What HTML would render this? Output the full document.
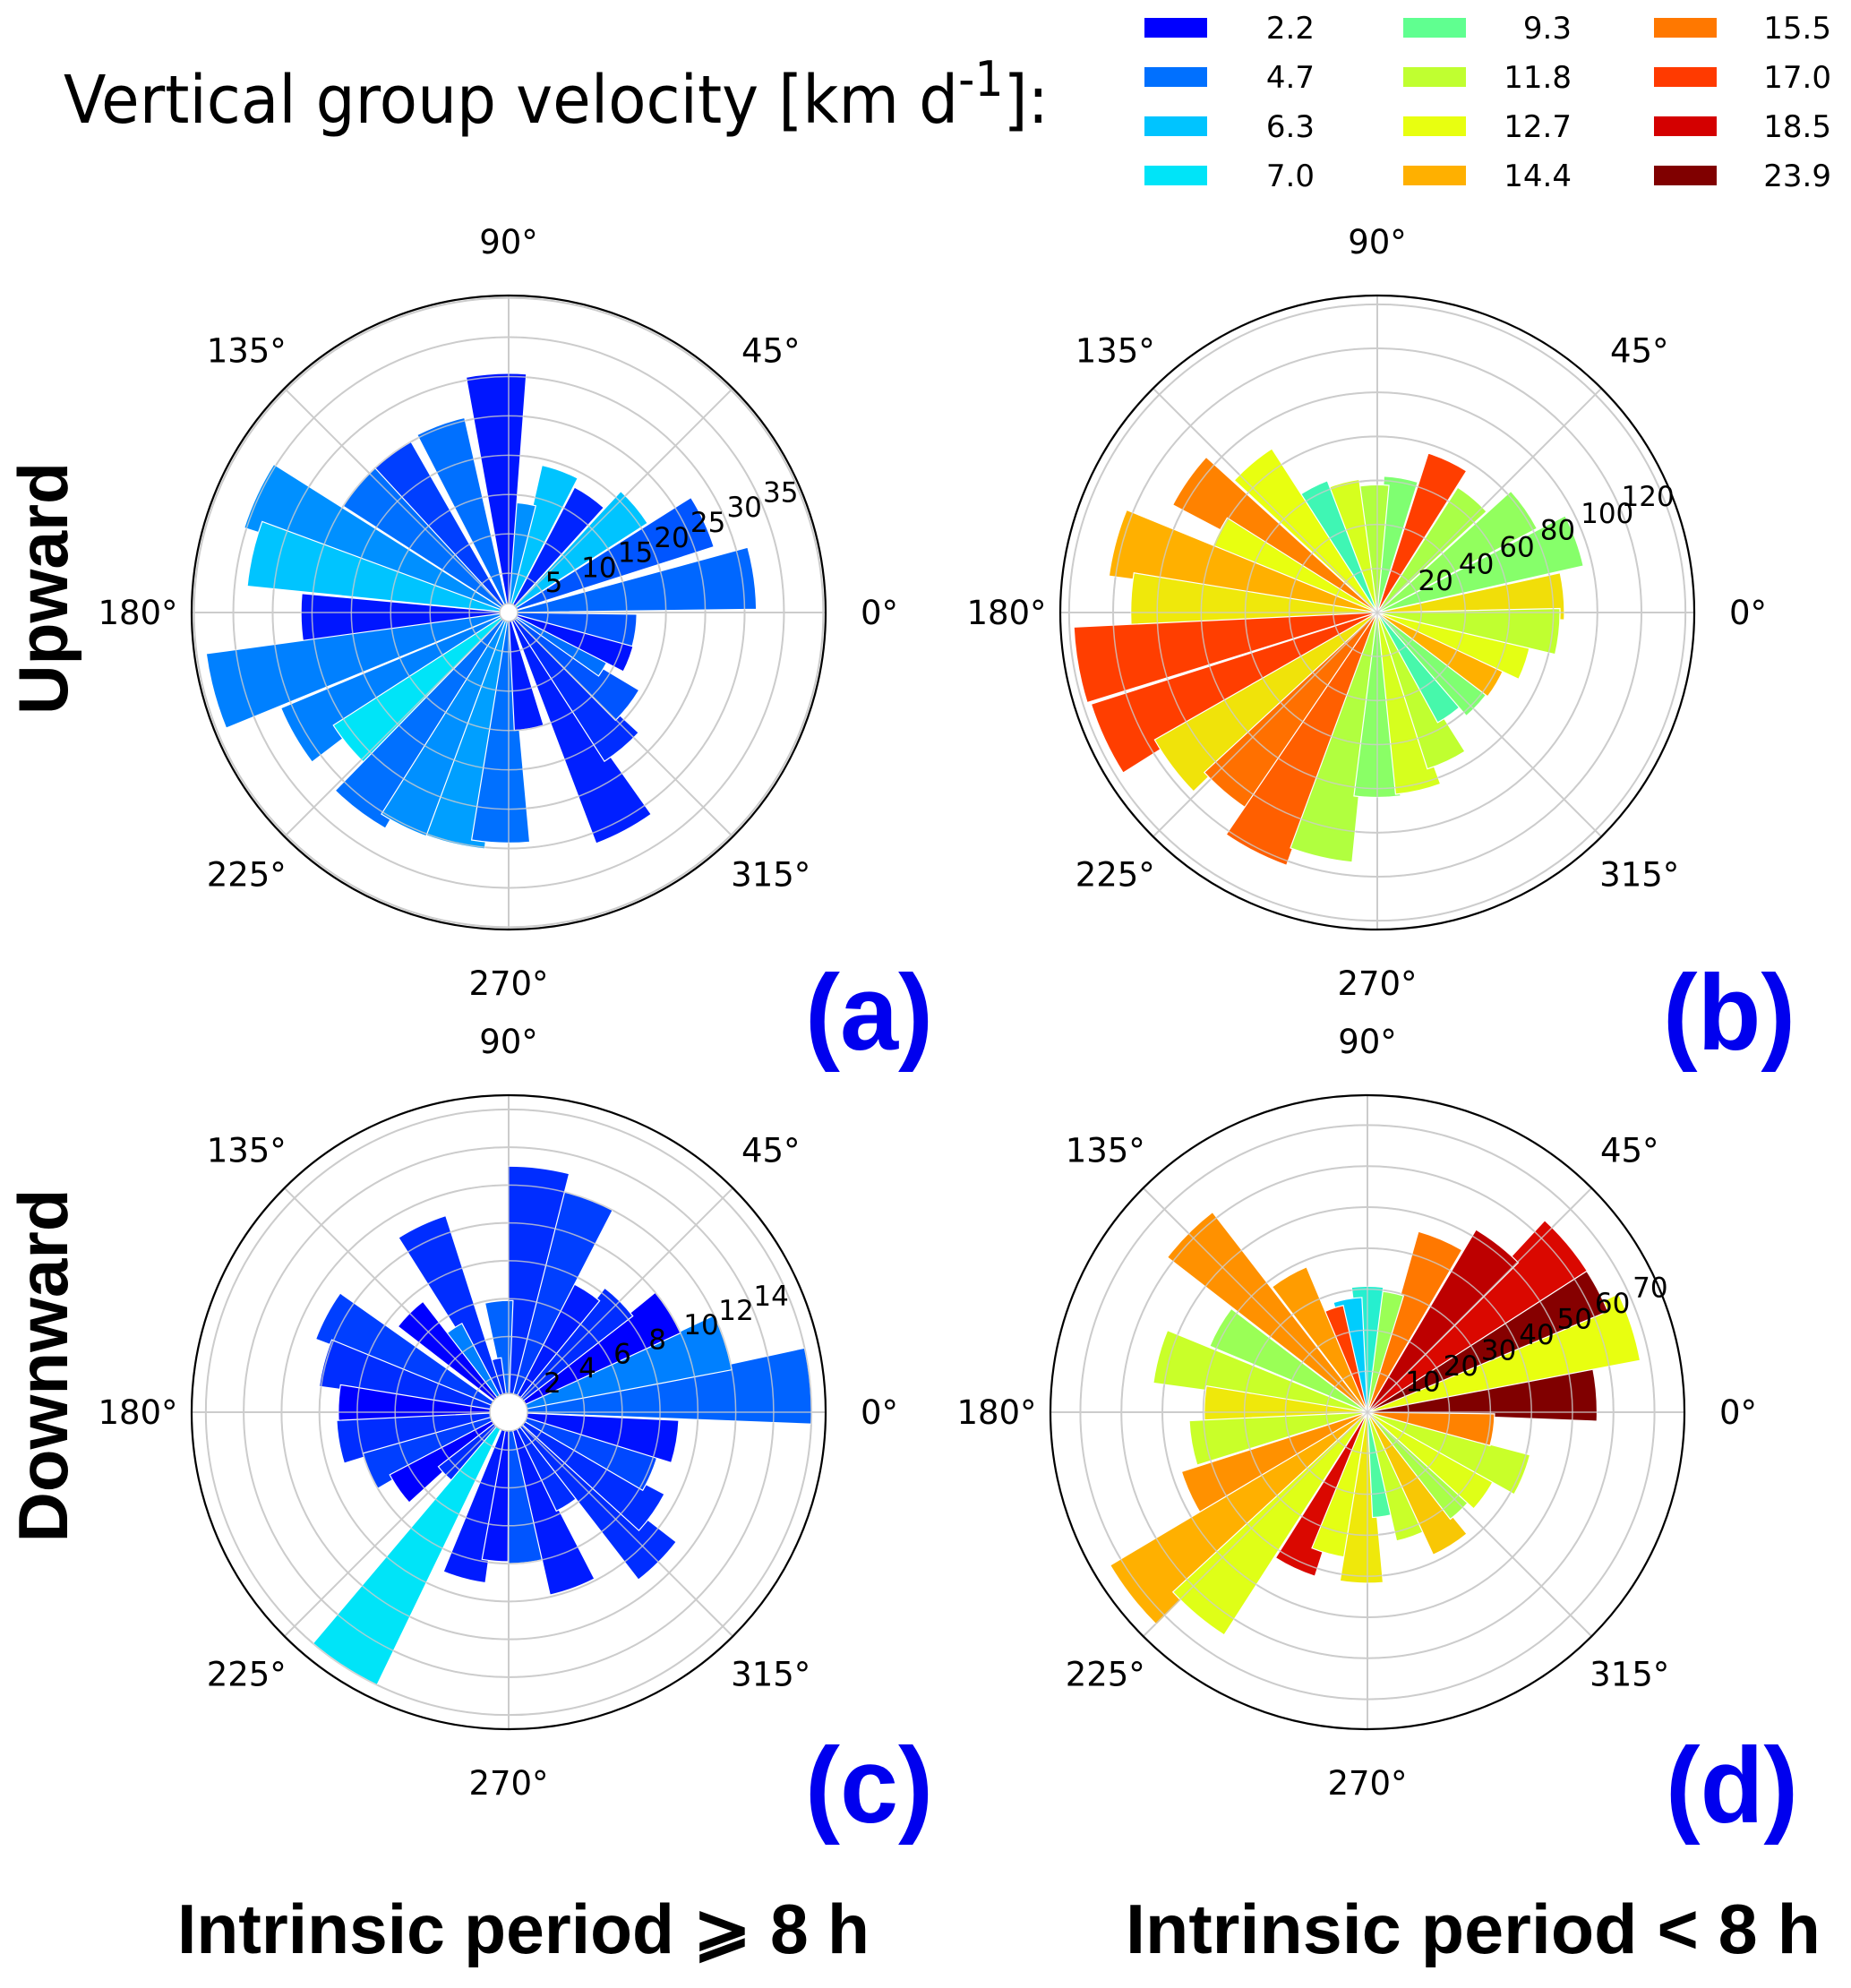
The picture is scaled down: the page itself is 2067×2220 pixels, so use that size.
<!DOCTYPE html>
<html><head><meta charset="utf-8">
<style>
html,body{margin:0;padding:0;background:#fff;}
svg{display:block;}
text{font-family:"DejaVu Sans","Liberation Sans",sans-serif;}
.b{font-family:"Liberation Sans",sans-serif;font-weight:bold;}
</style></head>
<body>
<svg id="fig" xmlns="http://www.w3.org/2000/svg" width="2067" height="2220" viewBox="0 0 2067 2220">
<rect x="0" y="0" width="2067" height="2220" fill="#fff"/>
<text x="71" y="137" font-size="74" font-family="Liberation Sans, sans-serif" textLength="1100" lengthAdjust="spacingAndGlyphs">Vertical group velocity [km d<tspan dy="-30" font-size="54">-1</tspan><tspan dy="30">]:</tspan></text>
<g id="legend"></g>
<text class="b" transform="translate(75,657) rotate(-90)" text-anchor="middle" font-size="78" textLength="282" lengthAdjust="spacingAndGlyphs">Upward</text>
<text class="b" transform="translate(75,1525) rotate(-90)" text-anchor="middle" font-size="78" textLength="395" lengthAdjust="spacingAndGlyphs">Downward</text>
<text class="b" x="198" y="2181" font-size="78" textLength="773" lengthAdjust="spacingAndGlyphs">Intrinsic period ⩾ 8 h</text>
<text class="b" x="1257" y="2181" font-size="78" textLength="776" lengthAdjust="spacingAndGlyphs">Intrinsic period &lt; 8 h</text>
<text class="b" x="899" y="1172" font-size="120" fill="#0000ee" textLength="143" lengthAdjust="spacingAndGlyphs">(a)</text>
<text class="b" x="1857" y="1172" font-size="120" fill="#0000ee" textLength="148" lengthAdjust="spacingAndGlyphs">(b)</text>
<text class="b" x="899" y="2035" font-size="120" fill="#0000ee" textLength="143" lengthAdjust="spacingAndGlyphs">(c)</text>
<text class="b" x="1860" y="2035" font-size="120" fill="#0000ee" textLength="148" lengthAdjust="spacingAndGlyphs">(d)</text>
<g id="panels"></g>
</svg>
<script>
// Legend classes (vertical group velocity, km/d)
const legendValues = [2.2, 4.7, 6.3, 7.0, 9.3, 11.8, 12.7, 14.4, 15.5, 17.0, 18.5, 23.9];
const legendColors = ["#0000ff","#0070ff","#00c4ff","#00e4f8","#60ff90","#c0ff30","#e8ff10","#ffb000","#ff7800","#ff3a00","#d40000","#800000"];

// Panel (a): upward, period >= 8 h
const anglesA = [8,25,40,55,70,83,93,110,127,140,155,167,182,195,210,220,233,245,257,268,280,298,310,322,332,340,352];
const valuesA = [31.5,27.4,21,18,19.2,14,30.4,25.4,25,25,35.3,33.4,26.4,38.8,31.4,26.5,31.6,30.3,30.2,29.3,15,31.4,22.5,19.3,14,16.4,16.3];
const velA    = [4.5,4.1,6.3,3.0,6.3,5.3,2.7,4.7,3.6,4.7,5.3,6.3,2.7,5.0,5.0,7.0,4.7,5.3,5.6,4.7,2.8,2.9,3.2,4.1,4.7,2.6,4.1];
const ticksA  = [5,10,15,20,25,30,35];

// Panel (b): upward, period < 8 h
const anglesB = [5,20,35,50,65,80,92,105,118,130,145,155,165,178,190,205,217,230,243,257,270,283,295,306,318,330,342,354];
const valuesB = [85,96,82,67.6,76,62,58,61,64,88.5,105,80.6,123,112,138,136.5,116.5,107,122,114,84,83,74.6,57,62,63,71,83];
const velB    = [13.4,10.3,10.6,11.2,16.9,10.1,11.4,12.3,8.5,12.7,15.3,12.7,14.4,13.2,16.9,16.9,13.3,15.7,16.1,11.4,10.4,12.3,11.8,8.7,10.1,14.4,12.6,11.8];
const ticksB  = [20,40,60,80,100,120];

// Panel (c): downward, period >= 8 h
const anglesC = [5,18,32,45,58,70,83,95,105,115,125,135,152,165,178,190,203,215,225,237,255,267,277,290,303,315,325,337,350];
const valuesC = [16,12,10,8.3,7.6,12,13,5.9,2.9,10.9,5.3,7.4,10.9,10.1,9.0,9.1,8.0,7.1,4.7,16.0,9.1,7.9,8.0,9.9,5.8,11.2,9.3,8.2,9.0];
const velC    = [4.4,5.0,2.2,3.2,2.8,3.6,3.2,4.4,3.2,3.2,5.0,2.2,3.6,3.2,2.2,3.2,3.6,2.2,3.2,7.0,2.8,2.6,4.1,2.8,3.2,3.2,3.2,3.8,2.6];
const ticksC  = [2,4,6,8,10,12,14];

// Panel (d): downward, period < 8 h
const anglesD = [5,18,30,40,52,67,80,90,100,110,120,135,150,165,178,190,205,218,230,245,255,268,280,290,302,315,325,338,352];
const valuesD = [56,67.7,63.6,63.7,51.8,45.8,29.7,30.7,28,26.7,38.4,61.7,41.7,52.7,39.8,43.5,47.6,73,64.6,42,35.8,41.7,25.7,32.2,38.3,33,35,41,31];
const velD    = [23.9,12.7,23.5,18.3,20.0,15.5,10.8,7.9,6.5,16.9,14.8,15.0,10.8,12.0,13.2,12.0,15.0,14.4,12.5,18.3,12.6,13.2,8.9,12.0,13.9,11.2,12.5,12.0,15.3];
const ticksD  = [10,20,30,40,50,60,70];

const NS = "http://www.w3.org/2000/svg";
function mk(tag, attrs){ const e=document.createElementNS(NS,tag); for(const k in attrs) e.setAttribute(k,attrs[k]); return e; }
function hex2rgb(h){ return [parseInt(h.substr(1,2),16),parseInt(h.substr(3,2),16),parseInt(h.substr(5,2),16)]; }
function velColor(v){
  if(v<=legendValues[0]) return legendColors[0];
  for(let i=1;i<legendValues.length;i++){
    if(v<=legendValues[i]){
      const t=(v-legendValues[i-1])/(legendValues[i]-legendValues[i-1]);
      const a=hex2rgb(legendColors[i-1]), b=hex2rgb(legendColors[i]);
      return "rgb("+a.map((x,j)=>Math.round(x+(b[j]-x)*t)).join(",")+")";
    }
  }
  return legendColors[legendColors.length-1];
}

// legend
const lg=document.getElementById('legend');
const colSw=[1278,1567,1847], colTx=[1468,1755,2045], rowY=[31,86,141,196];
legendValues.forEach((v,i)=>{
  const c=Math.floor(i/4), r=i%4;
  const sw=mk('rect',{x:colSw[c],y:rowY[r]-11,width:70,height:22,fill:legendColors[i]});
  
  
  lg.appendChild(sw);
  const t=mk('text',{x:colTx[c],y:rowY[r]+12,'font-size':34,'text-anchor':'end'});
  t.textContent=v.toFixed(1);
  
  
  lg.appendChild(t);
});

const R=354;
function drawPanel(id, cx, cy, rmax, hole, angles, values, vels, ticks){
  const g=mk('g',{});
  
  
  document.getElementById('panels').appendChild(g);
  const rs=v=>v/rmax*R;
  const pt=(deg,r)=>[cx+r*Math.cos(deg*Math.PI/180), cy-r*Math.sin(deg*Math.PI/180)];
  const ringVals=[]; const step=ticks[1]-ticks[0];
  for(let v=step; v<rmax-0.01; v+=step) ringVals.push(v);
  ringVals.forEach(v=>{
    const c=mk('circle',{cx:cx,cy:cy,r:rs(v),fill:'none',stroke:'#cccccc','stroke-width':2});
    
    
    g.appendChild(c);
  });
  for(let a=0;a<360;a+=45){
    const p=pt(a,R);
    const l=mk('line',{x1:cx,y1:cy,x2:p[0],y2:p[1],stroke:'#cccccc','stroke-width':2});
    
    
    g.appendChild(l);
  }
  const w=14.5;
  angles.forEach((a,i)=>{
    const r1=rs(values[i]), r0=hole;
    const a0=a-w/2, a1=a+w/2;
    const p0=pt(a0,r0), p1=pt(a0,r1), p2=pt(a1,r1), p3=pt(a1,r0);
    const d=`M${p0[0]},${p0[1]} L${p1[0]},${p1[1]} A${r1},${r1} 0 0 0 ${p2[0]},${p2[1]} L${p3[0]},${p3[1]} A${r0},${r0} 0 0 1 ${p0[0]},${p0[1]} Z`;
    const b=mk('path',{d:d,fill:velColor(vels[i]),stroke:'#ffffff','stroke-width':1.2});
    
    
    g.appendChild(b);
  });
  ringVals.forEach(v=>{
    const c=mk('circle',{cx:cx,cy:cy,r:rs(v),fill:'none',stroke:'#cccccc','stroke-width':1.5,'stroke-opacity':0.8});
    
    
    g.appendChild(c);
  });
  for(let a=0;a<360;a+=45){
    const p=pt(a,R), q=pt(a,hole);
    const l=mk('line',{x1:q[0],y1:q[1],x2:p[0],y2:p[1],stroke:'#cccccc','stroke-width':1.5,'stroke-opacity':0.8});
    
    
    g.appendChild(l);
  }
  if(hole>0){
    const h=mk('circle',{cx:cx,cy:cy,r:hole,fill:'#fff',stroke:'#cccccc','stroke-width':1.5});
    
    
    g.appendChild(h);
  }
  const o=mk('circle',{cx:cx,cy:cy,r:R,fill:'none',stroke:'#000','stroke-width':2.2});
  
  
  g.appendChild(o);
  ticks.forEach(v=>{
    const p=pt(22.5,rs(v));
    const t=mk('text',{x:p[0],y:p[1]-6,'font-size':31});
    t.textContent=v;
    
    
    g.appendChild(t);
  });
  for(let a=0;a<360;a+=45){
    const p=pt(a,R+60);
    const t=mk('text',{x:p[0],y:p[1]+13,'font-size':37,'text-anchor':'middle'});
    t.textContent=a+'°';
    
    
    g.appendChild(t);
  }
}
drawPanel('a',568,684,40.3,10,anglesA,valuesA,velA,ticksA);
drawPanel('b',1538,684,144,0,anglesB,valuesB,velB,ticksB);
drawPanel('c',568,1577,16.75,21,anglesC,valuesC,velC,ticksC);
drawPanel('d',1527,1577,77.3,0,anglesD,valuesD,velD,ticksD);
</script>
</body></html>
